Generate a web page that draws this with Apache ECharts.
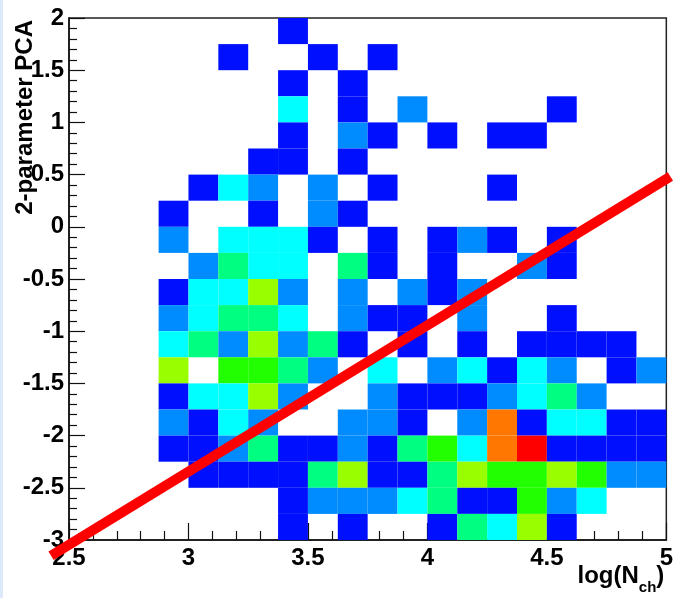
<!DOCTYPE html>
<html><head><meta charset="utf-8">
<script src="https://cdn.jsdelivr.net/npm/echarts@6/dist/echarts.min.js"></script>
<style>html,body{margin:0;padding:0;background:#fff}#c{width:676px;height:598px}</style>
</head><body><div id="c"></div>
<script>
// Histogram binning
const xMin = 2.5, xMax = 5, binW = 0.125;
const yMin = -3, yMax = 2, binH = 0.25;
const xTickStep = 0.5, yTickStep = 0.5;

// Bin counts: rows from top (y 1.75..2) down to bottom (y -3..-2.75); columns x 2.5 .. 5
const binCounts = [
  [0,0,0,0,0,0,0,1,0,0,0,0,0,0,0,0,0,0,0,0],
  [0,0,0,0,0,1,0,0,1,0,1,0,0,0,0,0,0,0,0,0],
  [0,0,0,0,0,0,0,1,0,1,0,0,0,0,0,0,0,0,0,0],
  [0,0,0,0,0,0,0,3,0,1,0,2,0,0,0,0,1,0,0,0],
  [0,0,0,0,0,0,0,1,0,2,1,0,1,0,1,1,0,0,0,0],
  [0,0,0,0,0,0,1,1,0,1,0,0,0,0,0,0,0,0,0,0],
  [0,0,0,0,1,3,2,0,2,0,1,0,0,0,1,0,0,0,0,0],
  [0,0,0,1,0,0,1,0,2,1,0,0,0,0,0,0,0,0,0,0],
  [0,0,0,2,0,3,3,3,1,0,1,0,1,2,1,0,1,0,0,0],
  [0,0,0,0,2,4,3,3,0,4,1,0,1,0,0,2,1,0,0,0],
  [0,0,0,1,3,3,6,2,0,2,0,2,1,2,0,0,0,0,0,0],
  [0,0,0,2,3,4,4,3,0,2,1,1,0,2,0,0,1,0,0,0],
  [0,0,0,3,4,2,6,2,4,1,0,1,0,1,0,1,1,1,1,0],
  [0,0,0,6,0,5,5,4,2,0,3,0,2,3,1,3,2,0,1,2],
  [0,0,0,1,3,3,6,2,0,0,2,1,1,1,2,3,4,2,0,0],
  [0,0,0,2,1,3,2,0,0,2,2,1,0,2,8,1,3,3,1,1],
  [0,0,0,1,1,2,4,1,1,2,1,4,5,3,8,9,1,1,1,1],
  [0,0,0,0,1,1,1,1,4,6,1,1,4,6,5,5,6,5,2,2],
  [0,0,0,0,0,0,0,1,2,2,2,3,4,1,1,5,2,3,0,0],
  [0,0,0,0,0,0,0,1,0,1,0,0,1,4,3,6,1,0,0,0]
];

// Colour palette per count
const countLevels = [1, 2, 3, 4, 5, 6, 7, 8, 9];
const countColors = ['#0010ff', '#008cff', '#00ffff', '#00ff80', '#22ff00', '#99ff00', '#ffee00', '#ff7700', '#ff0000'];

// Red separation line endpoints
const cutLineX = [2.425, 5.017];
const cutLineY = [-3.15, 0.482];

const nRows = binCounts.length;
const cells = [];
binCounts.forEach((row, r) => {
  row.forEach((v, i) => {
    if (v > 0) cells.push([xMin + i * binW, yMin + (nRows - 1 - r) * binH, v]);
  });
});

const font = 'Liberation Sans';
const chart = echarts.init(document.getElementById('c'), null, {renderer: 'canvas'});
chart.setOption({
  animation: false,
  backgroundColor: '#ffffff',
  graphic: [{type: 'rect', left: 0, top: 0, shape: {width: 3, height: 598}, style: {fill: '#dde9f8'}, z: 100}],
  grid: {left: 69, right: 7, top: 18, bottom: 58, show: true, borderColor: '#222', borderWidth: 1.5, backgroundColor: 'transparent'},
  visualMap: {
    type: 'piecewise', show: false, dimension: 2, seriesIndex: 0,
    pieces: countLevels.map((v, k) => ({value: v, color: countColors[k]}))
  },
  xAxis: {
    type: 'value', min: xMin, max: xMax, interval: xTickStep,
    splitLine: {show: false},
    axisLine: {show: true, onZero: false, lineStyle: {color: '#111', width: 1.5}},
    axisTick: {show: true, inside: true, length: 17, lineStyle: {color: '#111', width: 1.2}},
    minorTick: {show: true, splitNumber: 5, length: 9, lineStyle: {color: '#111', width: 1.2}},
    axisLabel: {color: '#000', fontFamily: font, fontWeight: 'bold', fontSize: 24, margin: 6},
    name: '{a|log(N}{sub|ch}{a|)}',
    nameLocation: 'end', nameGap: -2, nameMoveOverlap: false,
    nameTextStyle: {
      align: 'right', verticalAlign: 'top', padding: [21, 0, 0, 0],
      rich: {
        a: {fontFamily: font, fontWeight: 'bold', fontSize: 24, lineHeight: 30, verticalAlign: 'middle', color: '#000'},
        sub: {fontFamily: font, fontWeight: 'bold', fontSize: 15, lineHeight: 30, verticalAlign: 'middle', padding: [24, 0, 0, 0], color: '#000'}
      }
    }
  },
  yAxis: {
    type: 'value', min: yMin, max: yMax, interval: yTickStep,
    splitLine: {show: false},
    axisLine: {show: true, onZero: false, lineStyle: {color: '#111', width: 1.5}},
    axisTick: {show: true, inside: true, length: 16, lineStyle: {color: '#111', width: 1.2}},
    minorTick: {show: true, splitNumber: 5, length: 8, lineStyle: {color: '#111', width: 1.2}},
    axisLabel: {color: '#000', fontFamily: font, fontWeight: 'bold', fontSize: 24, margin: 5},
    name: '2-parameter PCA',
    nameLocation: 'end', nameRotate: 90, nameGap: -2, nameMoveOverlap: false,
    nameTextStyle: {color: '#000', fontFamily: font, fontWeight: 'bold', fontSize: 24, align: 'right', verticalAlign: 'bottom', padding: [0, 0, 32, 0]}
  },
  series: [
    {
      type: 'custom',
      data: cells,
      encode: {x: 0, y: 1},
      renderItem: function (params, api) {
        const x0 = api.value(0), y0 = api.value(1);
        const p0 = api.coord([x0, y0 + binH]);
        const p1 = api.coord([x0 + binW, y0]);
        return {
          type: 'rect',
          shape: {x: p0[0], y: p0[1], width: p1[0] - p0[0], height: p1[1] - p0[1]},
          style: {fill: api.visual('color')}
        };
      },
      z: 1
    },
    {
      type: 'custom',
      data: [[cutLineX[0], cutLineY[0], cutLineX[1], cutLineY[1]]],
      encode: {x: [0, 2], y: [1, 3]},
      clip: false, silent: true,
      renderItem: function (params, api) {
        const a = api.coord([api.value(0), api.value(1)]);
        const b = api.coord([api.value(2), api.value(3)]);
        return {
          type: 'line',
          shape: {x1: a[0], y1: a[1], x2: b[0], y2: b[1]},
          style: {stroke: '#ff0000', lineWidth: 10, lineCap: 'butt'}
        };
      },
      z: 10
    }
  ]
});
</script>
</body></html>
